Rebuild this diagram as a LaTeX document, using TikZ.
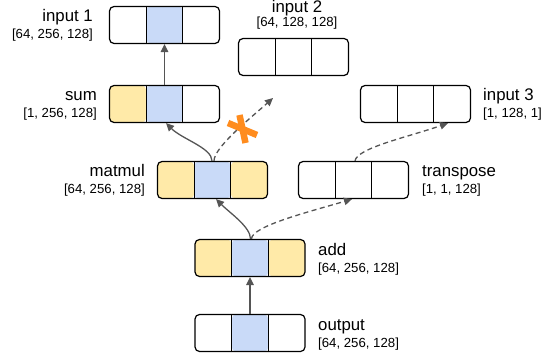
\documentclass[tikz,border=0pt]{standalone}
\usepackage{fontspec}
\setmainfont{Liberation Sans}
\usetikzlibrary{arrows.meta}
\definecolor{yel}{RGB}{255,234,168}
\definecolor{blu}{RGB}{201,218,248}
\definecolor{arrgray}{RGB}{85,85,85}
\definecolor{xorange}{RGB}{255,140,30}
\tikzset{
  tbox/.style n args={3}{draw=black, line width=1.2pt, rounded corners=4.5pt,
    minimum width=110pt, minimum height=37pt, inner sep=0pt,
    path picture={
      \fill[#1] (path picture bounding box.south west) rectangle ([xshift=36.67pt]path picture bounding box.north west);
      \fill[#2] ([xshift=36.67pt]path picture bounding box.south west) rectangle ([xshift=-36.67pt]path picture bounding box.north east);
      \fill[#3] ([xshift=-36.67pt]path picture bounding box.south east) rectangle (path picture bounding box.north east);
      \draw[line width=1.2pt] ([xshift=36.67pt]path picture bounding box.south west) -- ([xshift=36.67pt]path picture bounding box.north west);
      \draw[line width=1.2pt] ([xshift=-36.67pt]path picture bounding box.south east) -- ([xshift=-36.67pt]path picture bounding box.north east);
    }},
  big/.style={font=\fontsize{16.8}{20}\selectfont, inner sep=0pt},
  small/.style={font=\fontsize{13.2}{16}\selectfont, inner sep=0pt},
  arr/.style={draw=arrgray, line width=1.3pt, -{Triangle[length=8pt,width=7.5pt]}},
  darr/.style={arr, dash pattern=on 5pt off 3.5pt},
}
\begin{document}
\begin{tikzpicture}[x=1pt,y=-1pt]
\useasboundingbox (0,0) rectangle (554,358);
% boxes
\node[tbox={white}{blu}{white}] (input1) at (164.5,25) {};
\node[tbox={yel}{blu}{white}] (sum) at (164.5,104) {};
\node[tbox={white}{white}{white}] (input2) at (293.5,57) {};
\node[tbox={white}{white}{white}] (input3) at (415.5,104) {};
\node[tbox={yel}{blu}{yel}] (matmul) at (212.5,180) {};
\node[tbox={white}{white}{white}] (transpose) at (353.5,180) {};
\node[tbox={yel}{blu}{yel}] (add) at (250,258) {};
\node[tbox={white}{blu}{white}] (output) at (250,333) {};
% labels
\node[big, anchor=base east] (input1name) at (93,22) {input 1};
\node[small, anchor=base east] (input1dim) at (93,39) {[64, 256, 128]};
\node[big, anchor=base east] (sumname) at (97,101) {sum};
\node[small, anchor=base east] (sumdim) at (97,118) {[1, 256, 128]};
\node[big, anchor=base east] (matmulname) at (145,177) {matmul};
\node[small, anchor=base east] (matmuldim) at (145,194) {[64, 256, 128]};
\node[big, anchor=base] (input2name) at (297,12.5) {input 2};
\node[small, anchor=base] (input2dim) at (297,27) {[64, 128, 128]};
\node[big, anchor=base west] (input3name) at (483,101) {input 3};
\node[small, anchor=base west] (input3dim) at (483,118) {[1, 128, 1]};
\node[big, anchor=base west] (transposename) at (422,177) {transpose};
\node[small, anchor=base west] (transposedim) at (422,194) {[1, 1, 128]};
\node[big, anchor=base west] (addname) at (318,255) {add};
\node[small, anchor=base west] (adddim) at (318,272) {[64, 256, 128]};
\node[big, anchor=base west] (outputname) at (318,330) {output};
\node[small, anchor=base west] (outputdim) at (318,347) {[64, 256, 128]};
% connectors
\coordinate (dangle) at (273,98);
\draw[arr] (sum.north) -- (input1.south);
\draw[arr] (output.north) -- (add.south);
\draw[arr] ([xshift=-0.5pt]matmul.north) .. controls +(0,-13) and +(16,16) .. ([xshift=1.5pt]sum.south);
\draw[darr] ([xshift=1.5pt]matmul.north) .. controls +(0,-14) and +(-20,18) .. (dangle);
\draw[arr] ([xshift=0.5pt]add.north) .. controls +(0,-12) and +(14,14) .. ([xshift=3.5pt]matmul.south);
\draw[darr] ([xshift=1.5pt]add.north) .. controls +(0,-13) and +(-40,12) .. ([xshift=-1.5pt]transpose.south);
\draw[darr] ([xshift=1.5pt]transpose.north) .. controls +(2,-13) and +(-40,14) .. ([xshift=32.5pt]input3.south);
% orange cross
\draw[xorange, line width=6.5pt] (228,123) -- (257,135);
\draw[xorange, line width=6.5pt] (239.5,115) -- (245.5,143);
\end{tikzpicture}
\end{document}
